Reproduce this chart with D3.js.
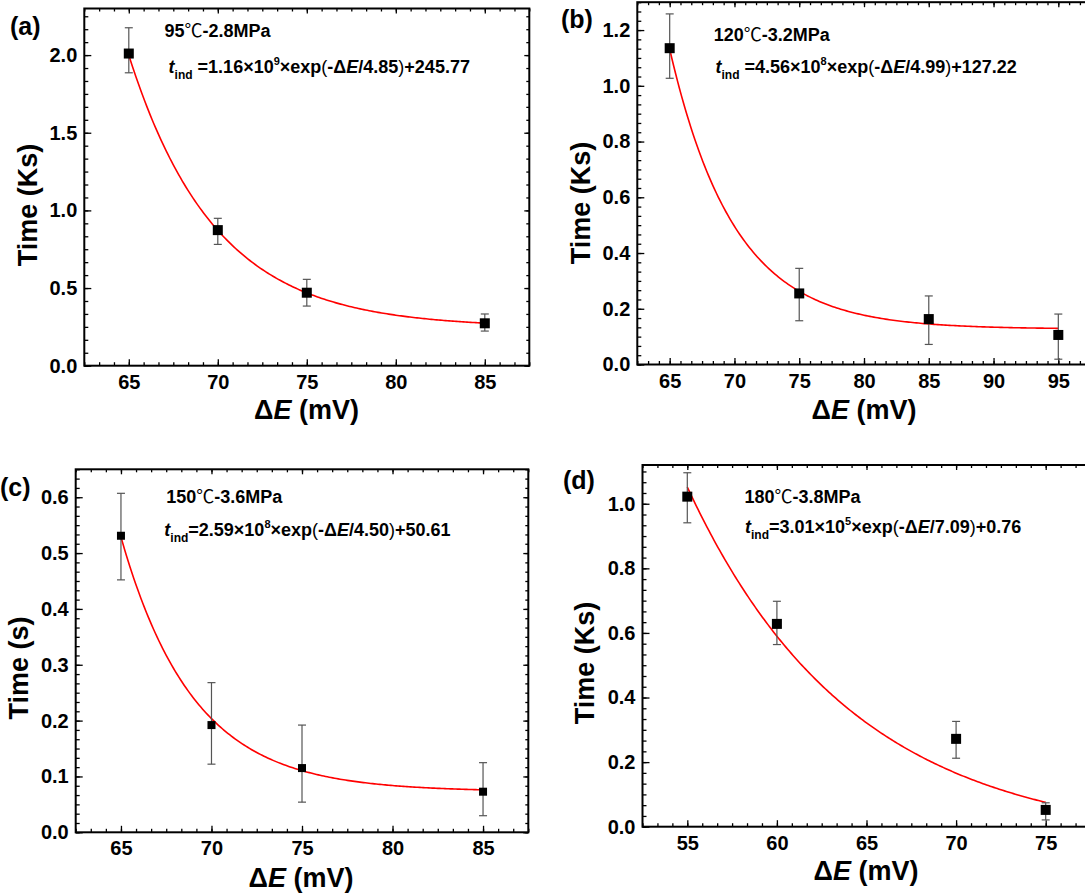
<!DOCTYPE html>
<html>
<head>
<meta charset="utf-8">
<script src="https://cdn.jsdelivr.net/npm/d3@7"></script>
<style>
  body { margin: 0; background: #fff; }
  svg text { font-family: "Liberation Sans", Arial, Helvetica, sans-serif; font-weight: bold; fill: #000; }
</style>
</head>
<body>
<svg id="chart" width="1085" height="895"></svg>
<script>
// ---- data ----
// (a) 95℃-2.8MPa
const xA = [65, 70, 75, 85]
const yA = [2.01, 0.873, 0.47, 0.273]
const upA = [0.166, 0.076, 0.086, 0.06]
const downA = [0.124, 0.092, 0.086, 0.05]
// (b) 120℃-3.2MPa
const xB = [65, 75, 85, 95]
const yB = [1.135, 0.255, 0.163, 0.106]
const upB = [0.123, 0.09, 0.083, 0.075]
const downB = [0.108, 0.098, 0.091, 0.087]
// (c) 150℃-3.6MPa
const xC = [65, 70, 75, 85]
const yC = [0.531, 0.192, 0.115, 0.0727]
const upC = [0.076, 0.076, 0.077, 0.052]
const downC = [0.079, 0.07, 0.061, 0.043]
// (d) 180℃-3.8MPa
const xD = [55, 60, 70, 75]
const yD = [1.022, 0.628, 0.272, 0.052]
const upD = [0.074, 0.07, 0.054, 0.022]
const downD = [0.081, 0.064, 0.06, 0.031]

// exponential fit curves: y = A*exp(-x/tau) + y0 (display units)
const fitA = [1.16e6, 4.56e5, 5.2e6, 435]
const fitTau = [4.85, 4.99, 4.0, 9.2]
const fitY0 = [0.24577, 0.12722, 0.073, -0.05]

// axis ranges and tick labels
const xDomains = [[62.5, 87.5], [62.5, 97.5], [62.5, 87.5], [52.5, 77.5]]
const yDomains = [[0, 2.3], [0, 1.3], [0, 0.65], [0, 1.12]]
const xTicks = [[65, 70, 75, 80, 85], [65, 70, 75, 80, 85, 90, 95], [65, 70, 75, 80, 85], [55, 60, 65, 70, 75]]
const yTicks = [[0, 0.5, 1.0, 1.5, 2.0], [0, 0.2, 0.4, 0.6, 0.8, 1.0, 1.2],
                [0, 0.1, 0.2, 0.3, 0.4, 0.5, 0.6], [0, 0.2, 0.4, 0.6, 0.8, 1.0]]
const xStep = [5, 5, 5, 5]
const yStep = [0.5, 0.2, 0.1, 0.2]

const panelLabels = ["(a)", "(b)", "(c)", "(d)"]
const condTemp = ["95", "120", "150", "180"]
const condPress = ["-2.8MPa", "-3.2MPa", "-3.6MPa", "-3.8MPa"]
// formula pieces: coefficient, exponent, divisor, offset, space before "="
const fCoef = ["1.16", "4.56", "2.59", "3.01"]
const fExp = ["9", "8", "8", "5"]
const fDiv = ["4.85", "4.99", "4.50", "7.09"]
const fOff = ["245.77", "127.22", "50.61", "0.76"]
const fSpace = [" ", " ", "", ""]
const yTitles = ["Time (Ks)", "Time (Ks)", "Time (s)", "Time (Ks)"]

const series = [
    {x: xA, y: yA, up: upA, down: downA},
    {x: xB, y: yB, up: upB, down: downB},
    {x: xC, y: yC, up: upC, down: downC},
    {x: xD, y: yD, up: upD, down: downD}
]

// ---- layout (pixels) ----
const frames = [
    {l: 84.3, t: 8.5, r: 529.3, b: 365.7},
    {l: 637.3, t: 2.2, r: 1090.7, b: 364.5},
    {l: 75.7, t: 469.3, r: 528.3, b: 832.3},
    {l: 642.5, t: 465, r: 1090.5, b: 826.7}
]
const labelPos = [[10, 35], [561, 28], [0, 496], [563, 489]]
const condPos = [[164.5, 37], [713.8, 40.7], [166.3, 502.7], [744.4, 502.7]]
const formPos = [[168.6, 73], [715.5, 73], [164.3, 536], [745, 533.3]]
const yTitlePos = [[27.5, 205], [580, 203], [18, 668], [584.5, 663]]
const xTitlePos = [[306.5, 418.6], [864, 418.6], [301, 887], [866, 880]]
const markerSize = [10, 10, 8, 10]

const svg = d3.select("#chart")
svg.append("rect").attr("width", 1085).attr("height", 895).attr("fill", "#fff")

function drawPanel(i) {
    const f = frames[i]
    const s = series[i]
    const x = d3.scaleLinear().domain(xDomains[i]).range([f.l, f.r])
    const y = d3.scaleLinear().domain(yDomains[i]).range([f.b, f.t])
    const g = svg.append("g")

    // minor ticks: 5 between majors
    const xd = xDomains[i], yd = yDomains[i]
    const xm = xStep[i] / 6, ym = yStep[i] / 6
    const xMinor = d3.range(Math.ceil((xd[0] - xTicks[i][0]) / xm), Math.floor((xd[1] - xTicks[i][0]) / xm) + 1)
        .map(k => xTicks[i][0] + k * xm)
    const yMinor = d3.range(0, Math.floor(yd[1] / ym + 1e-6) + 1).map(k => k * ym)

    const axes = [
        [d3.axisBottom(x).tickValues(xMinor).tickSize(-3.5).tickFormat(""), `translate(0,${f.b})`],
        [d3.axisTop(x).tickValues(xMinor).tickSize(-3).tickFormat(""), `translate(0,${f.t})`],
        [d3.axisLeft(y).tickValues(yMinor).tickSize(-4).tickFormat(""), `translate(${f.l},0)`],
        [d3.axisRight(y).tickValues(yMinor).tickSize(-3).tickFormat(""), `translate(${f.r},0)`],
        [d3.axisBottom(x).tickValues(xTicks[i]).tickSize(-6.5).tickPadding(9).tickFormat(d3.format("d")), `translate(0,${f.b})`],
        [d3.axisLeft(y).tickValues(yTicks[i]).tickSize(-7).tickPadding(7).tickFormat(d3.format(".1f")), `translate(${f.l},0)`],
        [d3.axisTop(x).tickValues(xTicks[i]).tickSize(-5).tickFormat(""), `translate(0,${f.t})`],
        [d3.axisRight(y).tickValues(yTicks[i]).tickSize(-5).tickFormat(""), `translate(${f.r},0)`]
    ]
    axes.forEach(([ax, tr]) => {
        const a = g.append("g").attr("transform", tr).call(ax)
        a.select(".domain").remove()
        a.selectAll(".tick line").attr("stroke", "#000").attr("stroke-width", 1.3)
        a.selectAll("text").attr("font-size", 20).attr("fill", "#000")
            .attr("font-family", "'Liberation Sans', Arial, sans-serif").attr("font-weight", "bold")
    })

    g.append("rect")
        .attr("x", f.l).attr("y", f.t)
        .attr("width", f.r - f.l).attr("height", f.b - f.t)
        .attr("fill", "none").attr("stroke", "#000").attr("stroke-width", 2)

    // fit curve
    const x0 = s.x[0], x1 = s.x[s.x.length - 1]
    const pts = d3.range(x0, x1 + 1e-9, (x1 - x0) / 200)
        .map(v => [v, fitA[i] * Math.exp(-v / fitTau[i]) + fitY0[i]])
    g.append("path")
        .datum(pts)
        .attr("fill", "none")
        .attr("stroke", "#ff0000")
        .attr("stroke-width", 1.6)
        .attr("d", d3.line().x(d => x(d[0])).y(d => y(d[1])))

    // error bars
    const idx = d3.range(s.x.length)
    const eb = g.append("g").attr("stroke", "#555").attr("stroke-width", 1.2)
    idx.forEach(k => {
        const cx = x(s.x[k]), yt = y(s.y[k] + s.up[k]), yb = y(s.y[k] - s.down[k])
        eb.append("line").attr("x1", cx).attr("x2", cx).attr("y1", yt).attr("y2", yb)
        eb.append("line").attr("x1", cx - 4).attr("x2", cx + 4).attr("y1", yt).attr("y2", yt)
        eb.append("line").attr("x1", cx - 4).attr("x2", cx + 4).attr("y1", yb).attr("y2", yb)
    })

    // markers
    const m = markerSize[i]
    g.selectAll(".pt").data(idx).join("rect")
        .attr("x", k => x(s.x[k]) - m / 2)
        .attr("y", k => y(s.y[k]) - m / 2)
        .attr("width", m).attr("height", m)
        .attr("fill", "#000")

    // texts
    g.append("text").attr("x", labelPos[i][0]).attr("y", labelPos[i][1])
        .attr("font-size", 25).text(panelLabels[i])

    const ct = g.append("text").attr("x", condPos[i][0]).attr("y", condPos[i][1]).attr("font-size", 18)
    ct.append("tspan").text(condTemp[i])
    ct.append("tspan").attr("font-family", "'Noto Sans CJK SC', sans-serif").attr("font-weight", "normal").text("℃")
    ct.append("tspan").text(condPress[i])

    const ft = g.append("text").attr("x", formPos[i][0]).attr("y", formPos[i][1]).attr("font-size", 18)
    ft.append("tspan").attr("font-style", "italic").text("t")
    ft.append("tspan").attr("font-size", 12).attr("dy", 6).text("ind")
    ft.append("tspan").attr("dy", -6).text(fSpace[i] + "=" + fCoef[i] + "×10")
    ft.append("tspan").attr("font-size", 11).attr("dy", -8).text(fExp[i])
    ft.append("tspan").attr("dy", 8).text("×exp")
    ft.append("tspan").attr("font-weight", "normal").text("(")
    ft.append("tspan").text("-Δ")
    ft.append("tspan").attr("font-style", "italic").text("E")
    ft.append("tspan").text("/" + fDiv[i])
    ft.append("tspan").attr("font-weight", "normal").text(")")
    ft.append("tspan").text("+" + fOff[i])

    g.append("text")
        .attr("transform", `translate(${yTitlePos[i][0]},${yTitlePos[i][1]}) rotate(-90)`)
        .attr("text-anchor", "middle").attr("dy", "0.36em")
        .attr("font-size", 27).text(yTitles[i])

    const xt = g.append("text").attr("x", xTitlePos[i][0]).attr("y", xTitlePos[i][1])
        .attr("text-anchor", "middle").attr("font-size", 27)
    xt.append("tspan").text("Δ")
    xt.append("tspan").attr("font-style", "italic").text("E")
    xt.append("tspan").text(" (mV)")
}

d3.range(4).forEach(drawPanel)
</script>
</body>
</html>
